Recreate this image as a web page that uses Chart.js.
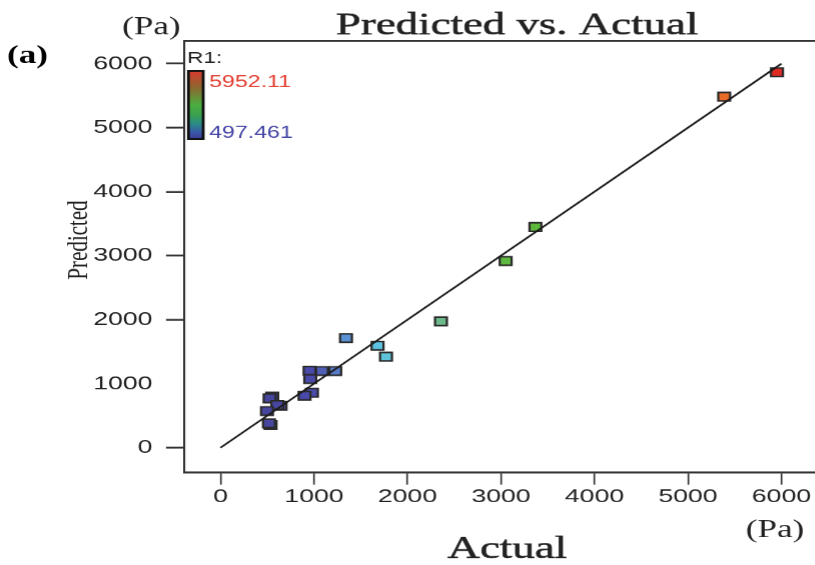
<!DOCTYPE html>
<html>
<head>
<meta charset="utf-8">
<title>Predicted vs. Actual</title>
<script src="https://cdn.jsdelivr.net/npm/chart.js@4.4.1/dist/chart.umd.min.js"></script>
<style>
    html, body { margin: 0; padding: 0; background: #fff; overflow: hidden; width: 815px; height: 565px; }
    /* the figure is laid out narrow and stretched sideways, fonts included */
    #chart { position: absolute; left: 0; top: 0; transform-origin: 0 0; }
</style>
</head>
<body>
<canvas id="chart"></canvas>
<script>
// measured runs: actual R1 vs model prediction (Pa)
var actual    = [5952, 5387, 3368, 3050, 2358, 1770, 1680, 1342, 1227, 1085, 953, 960, 978, 899, 553, 525, 642, 607, 497, 535, 518];
var predicted = [5866, 5484, 3448, 2917, 1975, 1422, 1594, 1714, 1198, 1198, 1203, 1073, 859, 812, 797, 772, 656, 667, 573, 355, 381];

// y = x reference line
var lineX = [0, 6000];
var lineY = [0, 6000];

var tickValues = [0, 1000, 2000, 3000, 4000, 5000, 6000];

// R1 colour range shown in the key
var r1Min = 497.461;
var r1Max = 5952.11;

var STRETCH = 1.4;
var W = 815 / STRETCH;
// the plot box runs past the right edge of the page
var CANVAS_W = Math.round(W + 10);
var CANVAS_H = 565;

// where zero sits and how many px one Pa takes (canvas units, before stretching)
var xZero = 157.36, xPerUnit = 66.71 / 1000;
var yZero = 447.7,  yPerUnit = 64 / 1000;

var canvas = document.getElementById('chart');
canvas.width = CANVAS_W;
canvas.height = CANVAS_H;
canvas.style.transform = 'scaleX(' + STRETCH + ')';

// colour ramp used for the markers
var markerStops = [
    [0.00, '#46469e'], [0.09, '#4a4aac'], [0.15, '#5a8ed2'], [0.22, '#5cc4e2'],
    [0.34, '#6cb98c'], [0.46, '#5eb840'], [0.55, '#5cb83a'], [0.75, '#c0a030'],
    [0.90, '#ea6a28'], [1.00, '#e02a24']
];

function hexToRgb(h) {
    return [parseInt(h.substr(1, 2), 16), parseInt(h.substr(3, 2), 16), parseInt(h.substr(5, 2), 16)];
}

function colorFor(v) {
    var t = Math.max(0, Math.min(1, (v - r1Min) / (r1Max - r1Min)));
    for (var i = 1; i < markerStops.length; i++) {
        if (t <= markerStops[i][0]) {
            var a = markerStops[i - 1], b = markerStops[i];
            var f = (t - a[0]) / (b[0] - a[0]);
            var ca = hexToRgb(a[1]), cb = hexToRgb(b[1]);
            var c = ca.map((x, k) => Math.round(x + (cb[k] - x) * f));
            return 'rgb(' + c.join(',') + ')';
        }
    }
    return markerStops[markerStops.length - 1][1];
}

var serif = '"Liberation Serif", "Times New Roman", serif';
var sans = '"Liberation Sans", Arial, sans-serif';

// text with a hairline stroke so it reads a little heavier
function heavyText(ctx, text, x, y, w) {
    ctx.fillText(text, x, y);
    ctx.lineWidth = w;
    ctx.strokeStyle = ctx.fillStyle;
    ctx.strokeText(text, x, y);
}

// titles, units, panel letter, top frame line and the R1 key
var figureText = {
    id: 'figureText',
    afterDraw(chart) {
        const ctx = chart.ctx;
        const area = chart.chartArea;
        ctx.save();

        // top edge of the frame
        ctx.strokeStyle = '#333';
        ctx.lineWidth = 2;
        ctx.beginPath();
        ctx.moveTo(area.left, area.top);
        ctx.lineTo(area.right, area.top);
        ctx.stroke();

        ctx.fillStyle = '#222';
        ctx.textBaseline = 'alphabetic';

        ctx.font = '32px ' + serif;
        ctx.textAlign = 'center';
        heavyText(ctx, 'Predicted vs. Actual', 369, 34, 0.5);
        heavyText(ctx, 'Actual', 362, 558, 0.5);

        ctx.font = '25px ' + serif;
        ctx.fillText('(Pa)', 108, 34);
        ctx.fillText('(Pa)', 553, 537);

        ctx.font = 'bold 25px ' + serif;
        ctx.fillStyle = '#000';
        ctx.fillText('(a)', 19.6, 63);

        // rotated y title
        ctx.save();
        ctx.translate(62, 240);
        ctx.rotate(-Math.PI / 2);
        ctx.font = '21px ' + serif;
        ctx.fillStyle = '#222';
        ctx.fillText('Predicted', 0, 0);
        ctx.restore();

        // R1 key
        ctx.textAlign = 'left';
        ctx.font = '16px ' + sans;
        ctx.fillStyle = '#222';
        ctx.fillText('R1:', 133.6, 63);

        const bx = 134.5, by = 71, bw = 10.5, bh = 68;
        const grad = ctx.createLinearGradient(0, by, 0, by + bh);
        grad.addColorStop(0, '#d93a30');
        grad.addColorStop(0.25, '#8a6a30');
        grad.addColorStop(0.5, '#4cae40');
        grad.addColorStop(0.65, '#3aa050');
        grad.addColorStop(0.78, '#2a8a8a');
        grad.addColorStop(0.9, '#3a58a8');
        grad.addColorStop(1, '#3a3a90');
        ctx.fillStyle = grad;
        ctx.fillRect(bx, by, bw, bh);
        ctx.strokeStyle = '#111';
        ctx.lineWidth = 2;
        ctx.strokeRect(bx, by, bw, bh);

        ctx.font = '16.5px ' + sans;
        ctx.fillStyle = '#e33b2e';
        ctx.fillText(r1Max.toFixed(2), 149.3, 87);
        ctx.fillStyle = '#4545a5';
        ctx.fillText(r1Min.toFixed(3), 149.3, 138);

        ctx.restore();
    }
};

var tickFont = { family: sans, size: 19 };

var chart = new Chart(canvas, {
    type: 'scatter',
    data: {
        datasets: [
            {
                type: 'line',
                data: lineX.map((x, i) => ({ x: x, y: lineY[i] })),
                borderColor: '#1a1a1a',
                borderWidth: 1.6,
                pointRadius: 0,
                fill: false
            },
            {
                data: actual.map((a, i) => ({ x: a, y: predicted[i] })),
                pointStyle: 'rect',
                pointRadius: 6,
                backgroundColor: ctx => colorFor(ctx.raw ? ctx.raw.x : 0),
                borderColor: '#2a2a2a',
                borderWidth: 1.6
            }
        ]
    },
    options: {
        responsive: false,
        devicePixelRatio: STRETCH,
        animation: false,
        events: [],
        layout: { padding: { left: 0, right: 0, top: 41, bottom: 52.3 } },
        plugins: { legend: { display: false }, tooltip: { enabled: false } },
        scales: {
            x: {
                type: 'linear',
                min: -383,
                max: 6500,
                afterBuildTicks: s => { s.ticks = tickValues.map(v => ({ value: v })); },
                afterFit: s => { s.height = 40; s.paddingLeft = 0; s.paddingRight = 0; },
                ticks: {
                    font: tickFont,
                    color: '#222',
                    padding: 1,
                    maxRotation: 0,
                    autoSkip: false,
                    callback: v => String(v)
                },
                grid: { drawOnChartArea: false, drawTicks: true, tickLength: 12, tickColor: '#333', tickWidth: 1.2 },
                border: { display: true, color: '#333', width: 2 }
            },
            y: {
                type: 'linear',
                min: -391,
                max: 6355,
                afterBuildTicks: s => { s.ticks = tickValues.map(v => ({ value: v })); },
                afterFit: s => { s.width = 131.8; s.paddingTop = 0; s.paddingBottom = 0; },
                ticks: {
                    font: tickFont,
                    color: '#222',
                    padding: 9.7,
                    autoSkip: false,
                    callback: v => String(v)
                },
                grid: {
                    drawOnChartArea: false,
                    drawTicks: true,
                    tickLength: 13.3,
                    tickWidth: 1.8,
                    tickColor: ctx => (ctx.tick && ctx.tick.value === 1000) ? 'rgba(0,0,0,0)' : '#333'
                },
                border: { display: true, color: '#333', width: 1.5 }
            }
        }
    },
    plugins: [figureText]
});

// pin the axis ranges to the plot box that the layout produced
var area = chart.chartArea;
chart.options.scales.x.min = (area.left - xZero) / xPerUnit;
chart.options.scales.x.max = (area.right - xZero) / xPerUnit;
chart.options.scales.y.min = (yZero - area.bottom) / yPerUnit;
chart.options.scales.y.max = (yZero - area.top) / yPerUnit;
chart.update();
</script>
</body>
</html>
